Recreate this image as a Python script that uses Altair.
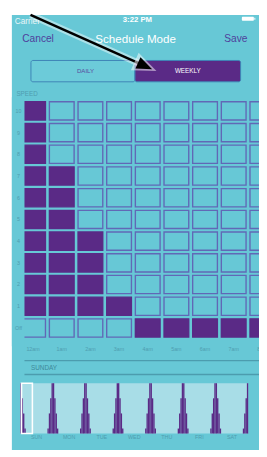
import altair as alt
import pandas as pd

# ---------------- data ----------------
hours = ["12am", "1am", "2am", "3am", "4am", "5am", "6am", "7am", "8am"]
sunday_levels = [10, 7, 4, 1, 0, 0, 0, 0, 0]
speed_labels = ["Off", "1", "2", "3", "4", "5", "6", "7", "8", "9", "10"]
days = ["SUN", "MON", "TUE", "WED", "THU", "FRI", "SAT"]
profile_hours = [0, 1, 2, 3, 20, 21, 22, 23]
profile_levels = [10, 7, 4, 1, 1, 4, 7, 10]
window_hours = [0.9, 8.9]

# ---------------- style ----------------
TEAL = "#67c8d6"
PURPLE = "#5a2a86"
CELL_STROKE = "#6168b6"
LABEL = "#4f9db0"
STRIP_BG = "#a8dde7"
RULE = "#4c9cae"
NAV = "#4f3f9c"
FONT = "Liberation Sans"
W, H = 259, 449

dummy = pd.DataFrame({"a": [0]})


def box(x, x2, y, y2, **mark):
    return alt.Chart(dummy).mark_rect(**mark).encode(
        x=alt.value(x), x2=alt.value(x2), y=alt.value(y), y2=alt.value(y2))


def rule(x, x2, y, y2, **mark):
    return alt.Chart(dummy).mark_rule(**mark).encode(
        x=alt.value(x), x2=alt.value(x2), y=alt.value(y), y2=alt.value(y2))


def label(text, x, y, **mark):
    return alt.Chart(dummy).mark_text(text=text, font=FONT, **mark).encode(
        x=alt.value(x), y=alt.value(y))


# scales for the grid and strip
gx = alt.Scale(domain=[-0.4193, 8.3396], nice=False, zero=False)
gy = alt.Scale(domain=[-5.625, 14.42], nice=False, zero=False)
sx = alt.Scale(domain=[-9.071, 175.93], nice=False, zero=False)
sy = alt.Scale(domain=[-3.269, 83.077], nice=False, zero=False)

# grid cells
rows = []
for h, lvl in enumerate(sunday_levels):
    for s in range(len(speed_labels)):
        on = (s == 0 and lvl == 0) or (1 <= s <= lvl)
        rows.append({"h": h, "s": s, "state": "on" if on else "off"})
cells_df = pd.DataFrame(rows)

cells = alt.Chart(cells_df).mark_rect(strokeWidth=1.4).transform_calculate(
    x0="datum.h + 0.025", x1="datum.h + 0.888",
    y0="datum.s - 0.42", y1="datum.s + 0.42",
).encode(
    x=alt.X("x0:Q", scale=gx, axis=None), x2="x1:Q",
    y=alt.Y("y0:Q", scale=gy, axis=None), y2="y1:Q",
    fill=alt.Fill("state:N", scale=alt.Scale(domain=["on", "off"], range=[PURPLE, TEAL]), legend=None),
    stroke=alt.Stroke("state:N", scale=alt.Scale(domain=["on", "off"], range=[PURPLE, CELL_STROKE]), legend=None),
)

cover = box(4, 17, 85, 342, fill=TEAL)

ylab_df = pd.DataFrame({"label": speed_labels, "s": list(range(len(speed_labels)))})
ylabels = alt.Chart(ylab_df).mark_text(font=FONT, fontSize=5.5, color=LABEL).transform_calculate(
    lx="-0.05").encode(
    x=alt.X("lx:Q", scale=gx, axis=None),
    y=alt.Y("s:Q", scale=gy, axis=None),
    text="label:N",
)

xlab_df = pd.DataFrame({"label": hours, "h": list(range(len(hours)))})
xlabels = alt.Chart(xlab_df).mark_text(font=FONT, fontSize=5.5, color=LABEL).transform_calculate(
    lx="datum.h + 0.456", ly="-0.98").encode(
    x=alt.X("lx:Q", scale=gx, axis=None),
    y=alt.Y("ly:Q", scale=gy, axis=None),
    text="label:N",
)

# weekly strip
strip_rows = []
for d in range(len(days)):
    for hr, lv in zip(profile_hours, profile_levels):
        strip_rows.append({"t": d * 24 + hr, "level": lv})
strip_df = pd.DataFrame(strip_rows)

strip_bg = alt.Chart(pd.DataFrame({"t0": [0], "t1": [24 * len(days)], "l0": [0], "l1": [10]})).mark_rect(
    fill=STRIP_BG).encode(
    x=alt.X("t0:Q", scale=sx, axis=None), x2="t1:Q",
    y=alt.Y("l0:Q", scale=sy, axis=None), y2="l1:Q",
)

spikes = alt.Chart(strip_df).mark_rect(fill=PURPLE).transform_calculate(
    t1="datum.t + 1", l0="0").encode(
    x=alt.X("t:Q", scale=sx, axis=None), x2="t1:Q",
    y=alt.Y("l0:Q", scale=sy, axis=None), y2="level:Q",
)

window = alt.Chart(pd.DataFrame({"t0": [window_hours[0]], "t1": [window_hours[1]], "l0": [0], "l1": [10]})).mark_rect(
    fillOpacity=0, stroke="white", strokeWidth=1.6).encode(
    x=alt.X("t0:Q", scale=sx, axis=None), x2="t1:Q",
    y=alt.Y("l0:Q", scale=sy, axis=None), y2="l1:Q",
)

day_df = pd.DataFrame({"day": days, "d": list(range(len(days)))})
day_labels = alt.Chart(day_df).mark_text(font=FONT, fontSize=5.5, color=LABEL).transform_calculate(
    tc="datum.d * 24 + 12", lv="-0.77").encode(
    x=alt.X("tc:Q", scale=sx, axis=None),
    y=alt.Y("lv:Q", scale=sy, axis=None),
    text="day:N",
)

# chrome
bg = box(4, W, 0, H, fill=TEAL)
carrier = label("Carrier", 7, 6, fontSize=8.5, color="white", opacity=0.85, align="left", baseline="middle")
clock = label("3:22 PM", 133.5, 5, fontSize=8, color="white", fontWeight="bold", align="center", baseline="middle")
battery = box(241.3, 253.7, 2, 6, fill="white", cornerRadius=1)
nub = box(254.2, 255.2, 3, 5, fill="white")
cancel = label("Cancel", 14.7, 25.3, fontSize=10.5, color=NAV, align="left", baseline="middle")
title = label("Schedule Mode", 131.7, 24.7, fontSize=12, color="white", align="center", baseline="middle")
save = label("Save", 247, 25.3, fontSize=10.5, color=NAV, align="right", baseline="middle")
seg_left = box(23.7, 131, 47, 69, fill="#6ccbd9", stroke="#3e83b6", strokeWidth=1, cornerRadius=2)
seg_right = box(131, 240, 47, 69, fill=PURPLE, stroke="#3e83b6", strokeWidth=1, cornerRadius=2)
daily = label("DAILY", 80, 58, fontSize=6.3, color="#5a4aa0", align="center", baseline="middle")
weekly = label("WEEKLY", 185.5, 58, fontSize=6.5, color="white", align="center", baseline="middle")
speed = label("SPEED", 8.7, 82, fontSize=6.5, color=LABEL, align="left", baseline="middle")
line1 = rule(17, W, 356.7, 356.7, color=RULE, strokeWidth=1.5)
line2 = rule(17, W, 371, 371, color=RULE, strokeWidth=1.5)
sunday = label("SUNDAY", 23.7, 364, fontSize=6.6, color="#3f8a9b", align="left", baseline="middle")

# arrow annotation
arrow_glow = rule(23.2, 137, 0, 50.7, color="white", strokeWidth=7, opacity=0.45)
arrow_line = rule(23.2, 137, 0, 50.7, color="black", strokeWidth=2.6)
HEAD = "M1,0L-1,-0.8L-1,0.8Z"
head_glow = alt.Chart(dummy).mark_point(shape=HEAD, size=600, angle=24, filled=True, color="white", opacity=0.5).encode(
    x=alt.value(142), y=alt.value(53))
head = alt.Chart(dummy).mark_point(shape=HEAD, size=256, angle=24, filled=True, color="black", opacity=1).encode(
    x=alt.value(141.4), y=alt.value(52.75))

chart = alt.layer(
    bg, carrier, clock, battery, nub, cancel, title, save,
    seg_left, seg_right, daily, weekly, speed,
    cells, cover, ylabels, xlabels,
    line1, line2, sunday,
    strip_bg, spikes, window, day_labels,
    arrow_glow, arrow_line, head_glow, head,
).resolve_scale(
    x="independent", y="independent", fill="independent", stroke="independent"
).properties(
    width=W, height=H, padding=0, autosize="none", background="white"
).configure_view(strokeWidth=0)

chart.save("out.html", embed_options={"renderer": "svg", "actions": False})
